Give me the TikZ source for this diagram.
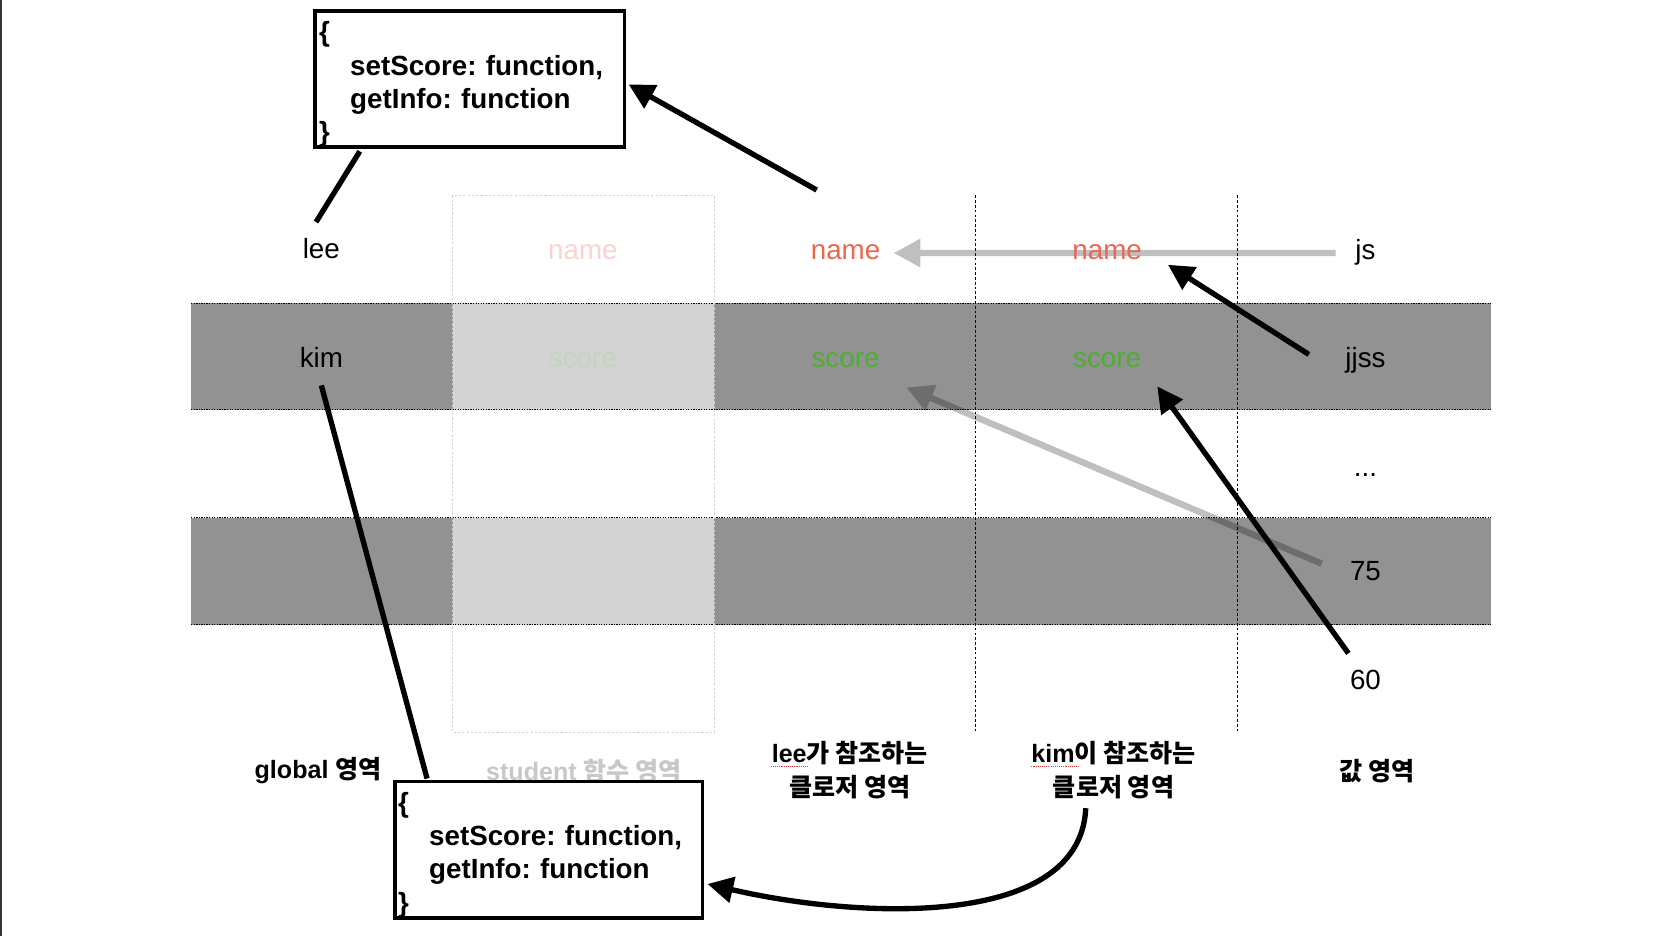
\documentclass[tikz,border=0pt]{standalone}
\usepackage{fontspec}
\setmainfont{Liberation Sans}
\newfontfamily\kr{Noto Sans CJK KR}
\usetikzlibrary{arrows.meta}
\definecolor{bandgray}{HTML}{929292}
\definecolor{bandlight}{HTML}{D3D3D3}
\definecolor{namered}{HTML}{EC6650}
\definecolor{namefade}{HTML}{F9D4CE}
\definecolor{scoregreen}{HTML}{4DAE30}
\definecolor{scorefade}{HTML}{C2D5BE}
\definecolor{labelfade}{HTML}{C8C8C8}
\definecolor{outlinegray}{HTML}{CFCFCF}
\definecolor{spellred}{HTML}{E04040}
\frenchspacing
\tikzset{
  val/.style={font=\fontsize{26}{31}\selectfont, inner sep=0pt, anchor=base},
  lbl/.style={font=\fontsize{23.5}{32}\selectfont\bfseries, align=center, inner sep=0pt},
  codebox/.style={draw, line width=3.5pt, fill=white, text width=282pt, align=left,
    minimum height=128pt, inner ysep=0pt,
    font=\fontsize{26}{31}\selectfont\bfseries},
  blkline/.style={line width=5pt, black},
  blkarrow/.style={blkline, -{Triangle[length=24pt,width=24pt]}},
  grayarrow/.style={line width=6pt, black, -{Triangle[length=25pt,width=25pt]}},
  banddots/.style={line width=1pt, dash pattern=on 1.2pt off 1.2pt},
  coldots/.style={line width=0.9pt, dash pattern=on 2.5pt off 2pt},
  studdots/.style={line width=0.8pt, outlinegray, dash pattern=on 2pt off 2pt}
}
\newcommand{\codetext}{\rule{0pt}{29pt}\{\\\hspace*{29pt}setScore: function,\\\hspace*{29pt}getInfo: function\\\}}
\begin{document}
\begin{tikzpicture}[x=1pt,y=-1pt]
\useasboundingbox (0,0) rectangle (1568,877);
\fill[white] (0,0) rectangle (1568,877);
\draw[line width=2pt, black!80] (1,0) -- (1,877);

% bands
\fill[bandgray] (179,284) rectangle (1397,384);
\fill[bandgray] (179,485) rectangle (1397,585);
\fill[bandlight] (424,284) rectangle (669,384);
\fill[bandlight] (424,485) rectangle (669,585);
\draw[banddots] (179,284) -- (1397,284);
\draw[banddots] (179,384) -- (1397,384);
\draw[banddots] (179,485) -- (1397,485);
\draw[banddots] (179,585) -- (1397,585);
\draw[studdots] (424,183) rectangle (669,686);
\draw[coldots] (914,183) -- (914,686);
\draw[coldots] (1159,183) -- (1159,686);

% coordinates for free ends
\coordinate (jsTail) at (1251,237);
\coordinate (nameTip) at (837,237);
\coordinate (v75Tail) at (1238,528);
\coordinate (scoreLTip) at (849,363);
\coordinate (jjssTail) at (1226,332);
\coordinate (nameKTip) at (1094,248);
\coordinate (v60Tail) at (1263,612);
\coordinate (scoreKTip) at (1084,362);
\coordinate (leeTop) at (296,208);
\coordinate (kimBottom) at (301,361);
\coordinate (lClosTail) at (765,178);
\coordinate (kClosTail) at (1017,757);

% gray arrows (under text)
\begin{scope}[transparency group, opacity=0.25]
\draw[grayarrow] (jsTail) -- (nameTip);
\end{scope}
\begin{scope}[transparency group, opacity=0.25]
\draw[grayarrow] (v75Tail) -- (scoreLTip);
\end{scope}

% row texts
\node[val] (lee) at (301,242) {lee};
\node[val, text=namefade] (nameS) at (546,243) {name};
\node[val, text=namered] (nameL) at (792,243) {name};
\node[val, text=namered] (nameK) at (1037,243) {name};
\node[val] (js) at (1279,243) {js};
\node[val] (kim) at (301,344) {kim};
\node[val, text=scorefade] (scoreS) at (546,344) {score};
\node[val, text=scoregreen] (scoreL) at (792,344) {score};
\node[val, text=scoregreen] (scoreK) at (1037,344) {score};
\node[val] (jjss) at (1279,344) {jjss};
\node[val] (dots) at (1279,446) {...};
\node[val] (v75) at (1279,544) {75};
\node[val] (v60) at (1279,646) {60};

% bottom labels
\node[lbl] (globalLbl) at (298,722) {global {\kr 영역}};
\node[lbl, text=labelfade] (studentLbl) at (547,722) {student {\kr 함수 영역}};
\node[lbl] (leeLbl) at (796,721) {lee{\kr 가 참조하는}\\{\kr 클로저 영역}};
\node[lbl] (kimLbl) at (1043,721) {kim{\kr 이 참조하는}\\{\kr 클로저 영역}};
\node[lbl] (valLbl) at (1290,722) {{\kr 값 영역}};
\draw[spellred, line width=0.9pt, dash pattern=on 1pt off 1pt] (722,718) -- (757,718);
\draw[spellred, line width=0.9pt, dash pattern=on 1pt off 1pt] (966,718) -- (1011,718);

% boxes
\node[codebox, inner xsep=4pt] (boxTop) at (440,74) {\codetext};
\node[codebox, inner xsep=3pt] (boxBot) at (514,796) {\codetext};

% black connectors
\draw[blkline] ([xshift=-103pt,yshift=-2pt]boxTop.south) -- (leeTop);
\draw[blkline] (kimBottom) -- ([xshift=-114pt,yshift=1pt]boxBot.north);
\draw[blkarrow] (lClosTail) -- ([xshift=2pt,yshift=-5pt]boxTop.east);
\draw[blkarrow] (jjssTail) -- (nameKTip);
\draw[blkarrow] (v60Tail) -- (scoreKTip);
\draw[blkarrow] (kClosTail) .. controls (1012,872) and (800,860) .. ([xshift=3pt,yshift=-32pt]boxBot.east);
\end{tikzpicture}
\end{document}
